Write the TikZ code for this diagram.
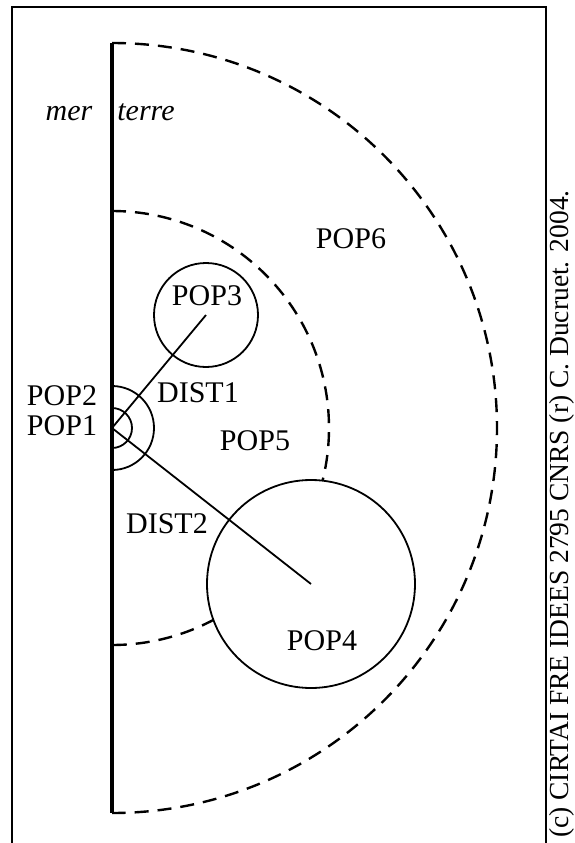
\documentclass[tikz,border=0pt]{standalone}
\usepackage{fontspec}
\setmainfont{Liberation Serif}
\tikzset{
  poplabel/.style={font=\fontsize{30}{36}\selectfont, anchor=base, inner sep=0pt},
  zone/.style={line width=2.4pt, dash pattern=on 14pt off 9pt},
  popcircle/.style={circle, draw, line width=1.8pt, inner sep=0pt},
  link/.style={line width=1.8pt},
}
\begin{document}
\begin{tikzpicture}[x=1pt,y=-1pt]
\useasboundingbox (0,0) rectangle (574,843);
\clip (0,0) rectangle (574,843);
% cadre
\draw[line width=2.5pt] (12,870) -- (12,7) -- (546,7) -- (546,870);
% zones de population
\draw[zone] (112,43) arc[start angle=-90, end angle=90, radius=385];
\draw[zone] (112,211) arc[start angle=-90, end angle=90, radius=217];
% trait de cote
\draw[line width=4.5pt] (112,43) -- (112,813);
\coordinate (pop1) at (112,428);
\draw[link] (112,386) arc[start angle=-90, end angle=90, radius=42];
\draw[link] (112,408) arc[start angle=-90, end angle=90, radius=20];
\node[popcircle, minimum size=104pt] (pop3) at (206,315) {};
\node[popcircle, fill=white, minimum size=208pt] (pop4) at (311,584) {};
\draw[link] (pop1) -- (pop3.center);
\draw[link] (pop1) -- (pop4.center);
% etiquettes
\node[poplabel, font=\fontsize{30}{36}\selectfont\itshape] (mer) at (69,120) {mer};
\node[poplabel, font=\fontsize{30}{36}\selectfont\itshape] (terre) at (146,120) {terre};
\node[poplabel] (lpop2) at (62,405) {POP2};
\node[poplabel] (lpop1) at (62,435) {POP1};
\node[poplabel] (lpop3) at (207,305) {POP3};
\node[poplabel] (dist1) at (198,402) {DIST1};
\node[poplabel] (lpop5) at (255,450) {POP5};
\node[poplabel] (lpop6) at (351,248) {POP6};
\node[poplabel] (dist2) at (167,533) {DIST2};
\node[poplabel] (lpop4) at (322,650) {POP4};
\node[font=\fontsize{27.5}{32}\selectfont, rotate=90, anchor=base west, inner sep=0pt] (credit) at (568,838) {(c) CIRTAI FRE IDEES 2795 CNRS (r) C. Ducruet. 2004.};
\end{tikzpicture}
\end{document}
